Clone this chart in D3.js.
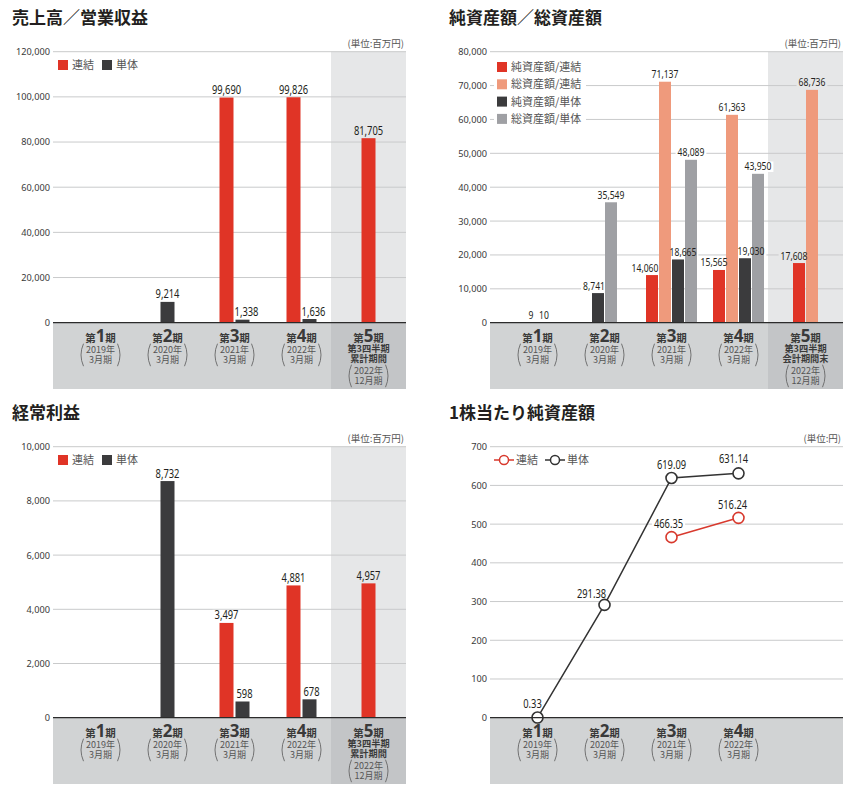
<!DOCTYPE html>
<html><head><meta charset="utf-8">
<script src="https://cdn.jsdelivr.net/npm/d3@7"></script>
<style>
body{margin:0;background:#fff;}
svg{display:block;}
</style></head>
<body><svg id="c" width="861" height="791"></svg>
<script>
// ---------------- data ----------------
const periods = ["1","2","3","4","5"];
const periodYear = ["2019年","2020年","2021年","2022年","2022年"];
const periodMonth = ["3月期","3月期","3月期","3月期","12月期"];
const fifthLinesSales = ["第3四半期","累計期間"];
const fifthLinesAssets = ["第3四半期","会計期間末"];

const salesCons = [null, null, 99690, 99826, 81705];
const salesStand = [null, 9214, 1338, 1636, null];
const salesTicks = [0, 20000, 40000, 60000, 80000, 100000, 120000];

const netAssetsCons = [null, null, 14060, 15565, 17608];
const totalAssetsCons = [null, null, 71137, 61363, 68736];
const netAssetsStand = [9, 8741, 18665, 19030, null];
const totalAssetsStand = [10, 35549, 48089, 43950, null];
const assetTicks = [0, 10000, 20000, 30000, 40000, 50000, 60000, 70000, 80000];

const ordCons = [null, null, 3497, 4881, 4957];
const ordStand = [null, 8732, 598, 678, null];
const ordTicks = [0, 2000, 4000, 6000, 8000, 10000];

const bpsPeriods = ["1","2","3","4"];
const bpsCons = [null, null, 466.35, 516.24];
const bpsStand = [0.33, 291.38, 619.09, 631.14];
const bpsTicks = [0, 100, 200, 300, 400, 500, 600, 700];

// ---------------- style ----------------
const RED = "#e03426", SALMON = "#ef9a7c", DARK = "#3b3b3d", GRAY = "#9fa0a4";
const HL = "#e6e7e8", BAND = "#d1d3d4", HLBAND = "#c3c5c7", GRID = "#c9cacb";
const JP = "'Noto Sans CJK JP','Noto Sans',sans-serif";
const NUM = "'Noto Sans',sans-serif";
const SQ = 0.78; // horizontal squeeze for condensed-looking numerals
const fmt = d3.format(",");

const svg = d3.select("#c");

function panel(ox, oy, opt) {
  const g = svg.append("g").attr("transform", `translate(${ox},${oy})`);
  const plotL = 53, plotR = 406, yTop = 51.7, y0 = 322.7, bandB = 389, hlL = 331;
  const x = d3.scaleBand().domain(periods).range([67, 402]);
  const y = d3.scaleLinear().domain([0, opt.max]).range([y0, yTop]);

  if (opt.highlight) {
    g.append("rect").attr("x", hlL).attr("y", yTop).attr("width", plotR - hlL).attr("height", y0 - yTop).attr("fill", HL);
    g.append("rect").attr("x", plotL).attr("y", y0).attr("width", hlL - plotL).attr("height", bandB - y0).attr("fill", BAND);
    g.append("rect").attr("x", hlL).attr("y", y0).attr("width", plotR - hlL).attr("height", bandB - y0).attr("fill", HLBAND);
  } else {
    g.append("rect").attr("x", plotL).attr("y", y0).attr("width", plotR - plotL).attr("height", bandB - y0).attr("fill", BAND);
  }
  g.append("text").attr("x", 12).attr("y", 24).attr("font-family", JP).attr("font-weight", 700)
    .attr("font-size", 17).attr("fill", "#231f20").text(opt.title);
  g.append("text").attr("x", plotR - 2).attr("y", 46.5).attr("text-anchor", "end").attr("font-family", JP)
    .attr("font-size", 9.5).attr("fill", "#555").text(opt.unit);

  g.selectAll(".grid").data(opt.ticks.filter(t => t > 0)).join("line")
    .attr("x1", plotL).attr("x2", plotR).attr("y1", d => y(d)).attr("y2", d => y(d))
    .attr("stroke", GRID).attr("stroke-width", 1);
  const ax = g.append("g").attr("transform", `translate(${plotL - 3},0)`)
    .call(d3.axisLeft(y).tickValues(opt.ticks).tickSize(0).tickPadding(0).tickFormat(fmt));
  ax.select(".domain").remove();
  ax.selectAll("text").attr("font-family", NUM).attr("font-size", 9.2).attr("fill", "#3a3a3a");

  const haloLayer = g.append("g");
  const markLayer = g.append("g");
  const textLayer = g.append("g");
  return {g, x, y, y0, plotL, plotR, bandB, haloLayer, markLayer, textLayer};
}

// value label with a background patch (under marks) that interrupts gridlines
function valueLabel(P, x, y, txt, size, bg) {
  const t = P.textLayer.append("text").attr("transform", `translate(${x},${y}) scale(${SQ},1)`)
    .attr("text-anchor", "middle").attr("font-family", NUM).attr("font-size", size)
    .attr("fill", "#231f20").text(txt);
  const w = t.node().getComputedTextLength() * SQ + 4;
  P.haloLayer.append("rect").attr("x", x - w / 2).attr("y", y - size * 0.8).attr("width", w)
    .attr("height", size * 0.95).attr("fill", bg);
}

function drawBars(P, series, bw, gap, fontSize, dxFn, hlIndex) {
  periods.forEach((p, i) => {
    const present = series.map((s, k) => ({s, k, v: s.values[i]})).filter(d => d.v != null);
    const n = present.length;
    const gw = n * bw + (n - 1) * gap;
    const cx = P.x(p) + P.x.bandwidth() / 2;
    const start = cx - gw / 2;
    const bg = i === hlIndex ? HL : "#fff";
    present.forEach((d, j) => {
      const bx = start + j * (bw + gap);
      P.markLayer.append("rect").attr("x", bx).attr("y", P.y(d.v)).attr("width", bw)
        .attr("height", Math.max(0, P.y0 - P.y(d.v))).attr("fill", d.s.color);
      valueLabel(P, bx + bw / 2 + dxFn(i, d.k, present), P.y(d.v) - 3.5, fmt(d.v), fontSize, bg);
    });
  });
}

function zeroLine(P) {
  P.g.append("line").attr("x1", P.plotL).attr("x2", P.plotR).attr("y1", P.y0).attr("y2", P.y0)
    .attr("stroke", "#2b2b2b").attr("stroke-width", 1.3);
}

// each category label is one multi-line <text> element
function catLabels(P, list, fifth) {
  list.forEach((p, i) => {
    const cx = P.x(p) + P.x.bandwidth() / 2;
    const t = P.g.append("text").attr("text-anchor", "middle").attr("font-family", JP);
    t.append("tspan").attr("x", cx).attr("y", P.y0 + 19).attr("font-size", 10.5).attr("font-weight", 700)
      .attr("fill", "#3a3a3a").text("第");
    t.append("tspan").attr("font-size", 17).attr("font-weight", 700).attr("font-family", NUM)
      .attr("fill", "#3a3a3a").text(p);
    t.append("tspan").attr("font-size", 10.5).attr("font-weight", 700).attr("fill", "#3a3a3a").text("期");
    let yy = P.y0 + 30;
    if (i === 4 && fifth) {
      fifth.forEach((ln, k) => {
        t.append("tspan").attr("x", cx).attr("y", P.y0 + 29.5 + k * 9.8).attr("font-weight", 700)
          .attr("font-size", 9.2).attr("fill", "#3a3a3a").text(ln);
      });
      yy = P.y0 + 51;
    }
    [periodYear[i], periodMonth[i]].forEach((ln, k) => {
      t.append("tspan").attr("x", cx).attr("y", yy + k * 10.3).attr("font-size", 9)
        .attr("font-weight", 400).attr("fill", "#555").text(ln);
    });
    const top = yy - 9, bot = yy + 13.5, mid = (top + bot) / 2, hw = 18;
    P.g.append("path").attr("d", `M${cx - hw + 1},${top} Q${cx - hw - 4},${mid} ${cx - hw + 1},${bot}`)
      .attr("fill", "none").attr("stroke", "#666").attr("stroke-width", 0.9);
    P.g.append("path").attr("d", `M${cx + hw - 1},${top} Q${cx + hw + 4},${mid} ${cx + hw - 1},${bot}`)
      .attr("fill", "none").attr("stroke", "#666").attr("stroke-width", 0.9);
  });
}

function legendRow(g, x, y, color, label) {
  g.append("rect").attr("x", x).attr("y", y - 5).attr("width", 10).attr("height", 10).attr("fill", color);
  g.append("text").attr("x", x + 14).attr("y", y + 4).attr("font-family", JP).attr("font-size", 11)
    .attr("fill", "#555").text(label);
}

// ---------- Chart 1 ----------
{
  const P = panel(0, 0, {title: "売上高／営業収益", unit: "(単位:百万円)", max: 120000, ticks: salesTicks, highlight: true});
  drawBars(P, [{values: salesCons, color: RED}, {values: salesStand, color: DARK}], 14, 2, 12,
    (i, k, pr) => (k === 1 && pr.length > 1 ? 4 : 0), 4);
  zeroLine(P);
  legendRow(P.g, 58, 65, RED, "連結");
  legendRow(P.g, 102, 65, DARK, "単体");
  catLabels(P, periods, fifthLinesSales);
}
// ---------- Chart 2 ----------
{
  const P = panel(437, 0, {title: "純資産額／総資産額", unit: "(単位:百万円)", max: 80000, ticks: assetTicks, highlight: true});
  const dx2 = [[0, 0, 0, 0], [0, 0, -4, 0], [-7, 0, 5, 0], [-5, 0, 6, 0], [-5, 0, 0, 0]];
  drawBars(P, [{values: netAssetsCons, color: RED}, {values: totalAssetsCons, color: SALMON},
    {values: netAssetsStand, color: DARK}, {values: totalAssetsStand, color: GRAY}], 12, 1, 11,
    (i, k) => dx2[i][k], 4);
  zeroLine(P);
  P.g.append("rect").attr("x", 57).attr("y", 58).attr("width", 92).attr("height", 69).attr("fill", "#fff");
  legendRow(P.g, 60, 67, RED, "純資産額/連結");
  legendRow(P.g, 60, 84.3, SALMON, "総資産額/連結");
  legendRow(P.g, 60, 101.6, DARK, "純資産額/単体");
  legendRow(P.g, 60, 118.9, GRAY, "総資産額/単体");
  catLabels(P, periods, fifthLinesAssets);
}
// ---------- Chart 3 ----------
{
  const P = panel(0, 395, {title: "経常利益", unit: "(単位:百万円)", max: 10000, ticks: ordTicks, highlight: true});
  drawBars(P, [{values: ordCons, color: RED}, {values: ordStand, color: DARK}], 14, 2, 12,
    (i, k, pr) => (k === 1 && pr.length > 1 ? 2 : 0), 4);
  zeroLine(P);
  legendRow(P.g, 58, 65, RED, "連結");
  legendRow(P.g, 102, 65, DARK, "単体");
  catLabels(P, periods, fifthLinesSales);
}
// ---------- Chart 4 ----------
{
  const P = panel(437, 395, {title: "1株当たり純資産額", unit: "(単位:円)", max: 700, ticks: bpsTicks, highlight: false});
  zeroLine(P);
  const cxOf = i => P.x(bpsPeriods[i]) + P.x.bandwidth() / 2;
  const labelOff = {
    stand: [[-5, -10], [-13, -7], [0, -9], [-5, -10]],
    cons: [null, null, [-3, -9], [-6, -9]]
  };
  const drawLine = (vals, color, offs) => {
    const pts = vals.map((v, i) => ({v, i})).filter(d => d.v != null);
    const line = d3.line().x(d => cxOf(d.i)).y(d => P.y(d.v));
    P.markLayer.append("path").attr("d", line(pts)).attr("fill", "none").attr("stroke", color).attr("stroke-width", 1.5);
    pts.forEach(d => {
      P.markLayer.append("circle").attr("cx", cxOf(d.i)).attr("cy", P.y(d.v)).attr("r", 5.5)
        .attr("fill", "#fff").attr("stroke", color).attr("stroke-width", 1.6);
      valueLabel(P, cxOf(d.i) + offs[d.i][0], P.y(d.v) + offs[d.i][1], d3.format(".2f")(d.v), 12, "#fff");
    });
  };
  drawLine(bpsStand, "#333", labelOff.stand);
  drawLine(bpsCons, "#d8392d", labelOff.cons);
  const lg = (x, color, label) => {
    P.g.append("line").attr("x1", x).attr("x2", x + 20).attr("y1", 65).attr("y2", 65).attr("stroke", color).attr("stroke-width", 1.5);
    P.g.append("circle").attr("cx", x + 10).attr("cy", 65).attr("r", 4.5).attr("fill", "#fff").attr("stroke", color).attr("stroke-width", 1.5);
    P.g.append("text").attr("x", x + 22).attr("y", 69).attr("font-family", JP).attr("font-size", 11).attr("fill", "#555").text(label);
  };
  lg(57, "#d8392d", "連結");
  lg(108, "#333", "単体");
  catLabels(P, bpsPeriods, null);
}
</script></body></html>
